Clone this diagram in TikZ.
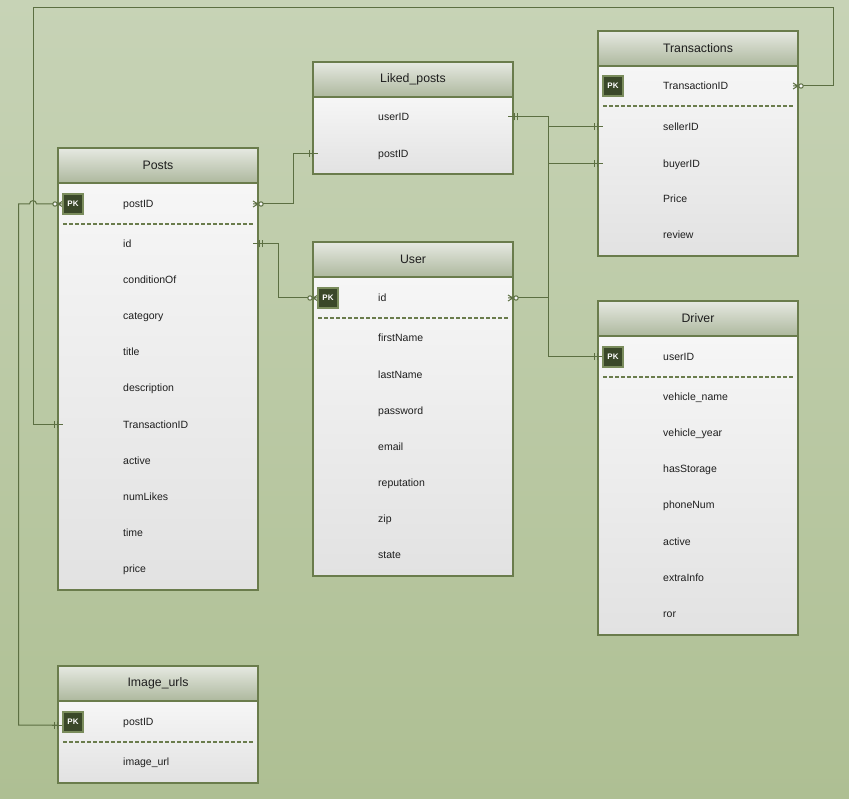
\documentclass[tikz,border=0pt]{standalone}
\usepackage{fontspec}
\setmainfont{Liberation Sans}
\definecolor{bgtop}{HTML}{C7D3B6}
\definecolor{bgbot}{HTML}{AEBF93}
\definecolor{edge}{HTML}{6A7C4C}
\definecolor{wire}{HTML}{5C6F42}
\definecolor{hdtop}{HTML}{E6E9E2}
\definecolor{hdbot}{HTML}{ADB89D}
\definecolor{bdtop}{HTML}{F6F6F6}
\definecolor{bdbot}{HTML}{E2E2E2}
\definecolor{pkfill}{HTML}{3A4829}
\definecolor{pkedge}{HTML}{7A8C5C}
\definecolor{ink}{HTML}{1E1E1E}
\tikzset{
  tbody/.style={draw=edge, line width=1.8pt, top color=bdtop, bottom color=bdbot,
    minimum width=200pt, inner sep=0pt, outer sep=0pt, anchor=north west},
  thead/.style={draw=edge, line width=1.8pt, top color=hdtop, bottom color=hdbot,
    minimum width=200pt, minimum height=35pt, inner sep=0pt, outer sep=0pt,
    anchor=south west, text=ink, font=\fontsize{12.3}{14}\selectfont},
  fld/.style={anchor=west, inner sep=0pt, text=ink, text height=7pt, text depth=0pt,
    font=\fontsize{10.5}{12}\selectfont},
  pkbox/.style={draw=pkedge, line width=1.6pt, fill=pkfill, text=white,
    minimum width=20pt, minimum height=20pt, inner sep=0pt,
    font=\bfseries\fontsize{8}{8}\selectfont},
  sepline/.style={draw=edge, line width=1.3pt, dash pattern=on 4pt off 2pt},
  wireline/.style={draw=wire, line width=1pt},
  pics/oneone/.style={code={
    \draw[wireline] (-6,0) -- (5,0);
    \draw[wireline] (-1,-3.5) -- (-1,3.5) (-4,-3.5) -- (-4,3.5);}},
  pics/zeromany/.style={code={
    \draw[wireline] (5,-3) -- (0,0) -- (5,3) (5,0) -- (0,0);
    \draw[wireline, fill=bdtop] (-3,0) circle (2.2pt);}},
}
\begin{document}
\begin{tikzpicture}[x=1pt,y=-1pt]
\useasboundingbox (0,0) rectangle (849,799);
\fill[top color=bgtop, bottom color=bgbot] (0,0) rectangle (849,799);

% ---------- Posts ----------
\node[tbody, minimum height=407pt] (posts) at (58,183) {};
\node[thead] (postsH) at (posts.north west) {Posts};
\foreach \t/\yy [count=\i] in {postID/204, id/244, conditionOf/280, category/316,
  title/352, description/388, TransactionID/425, active/461, numLikes/497,
  time/533, price/569}
  \node[fld] (posts-\i) at (123,\yy) {\t};
\node[pkbox] (postsPK) at (73,204) {PK};
\draw[sepline] (63,224) -- (253,224);

% ---------- Liked_posts ----------
\node[tbody, minimum height=77pt] (liked) at (313,97) {};
\node[thead] (likedH) at (liked.north west) {Liked\_posts};
\foreach \t/\yy [count=\i] in {userID/117, postID/154}
  \node[fld] (liked-\i) at (378,\yy) {\t};

% ---------- User ----------
\node[tbody, minimum height=299pt] (user) at (313,277) {};
\node[thead] (userH) at (user.north west) {User};
\foreach \t/\yy [count=\i] in {id/298, firstName/338, lastName/375, password/411,
  email/447, reputation/483, zip/519, state/555}
  \node[fld] (user-\i) at (378,\yy) {\t};
\node[pkbox] (userPK) at (328,298) {PK};
\draw[sepline] (318,318) -- (508,318);

% ---------- Transactions ----------
\node[tbody, minimum height=190pt] (trans) at (598,66) {};
\node[thead] (transH) at (trans.north west) {Transactions};
\foreach \t/\yy [count=\i] in {TransactionID/86, sellerID/127, buyerID/164,
  Price/199, review/235}
  \node[fld] (trans-\i) at (663,\yy) {\t};
\node[pkbox] (transPK) at (613,86) {PK};
\draw[sepline] (603,106) -- (793,106);

% ---------- Driver ----------
\node[tbody, minimum height=299pt] (driver) at (598,336) {};
\node[thead] (driverH) at (driver.north west) {Driver};
\foreach \t/\yy [count=\i] in {userID/357, vehicle\_name/397, vehicle\_year/433,
  hasStorage/469, phoneNum/505, active/542, extraInfo/578, ror/614}
  \node[fld] (driver-\i) at (663,\yy) {\t};
\node[pkbox] (driverPK) at (613,357) {PK};
\draw[sepline] (603,377) -- (793,377);

% ---------- Image_urls ----------
\node[tbody, minimum height=82pt] (image) at (58,701) {};
\node[thead] (imageH) at (image.north west) {Image\_urls};
\foreach \t/\yy [count=\i] in {postID/722, image\_url/762}
  \node[fld] (image-\i) at (123,\yy) {\t};
\node[pkbox] (imagePK) at (73,722) {PK};
\draw[sepline] (63,742) -- (253,742);

% ---------- connector end points ----------
\coordinate (pPostR) at (posts.east |- posts-1);
\coordinate (pPostL) at (posts.west |- posts-1);
\coordinate (pIdR) at (posts.east |- posts-2);
\coordinate (pTrL) at (posts.west |- posts-7);
\coordinate (lUserR) at (liked.east |- liked-1);
\coordinate (lPostL) at (liked.west |- liked-2);
\coordinate (uIdL) at (user.west |- user-1);
\coordinate (uIdR) at (user.east |- user-1);
\coordinate (tIdR) at (trans.east |- trans-1);
\coordinate (tSellL) at (trans.west |- trans-2);
\coordinate (tBuyL) at (trans.west |- trans-3);
\coordinate (dUserL) at (driver.west |- driver-1);
\coordinate (iPostL) at (image.west |- 0,725);
\coordinate (busTop) at (548,117);
\coordinate (busBot) at (548,357);

% ---------- connectors ----------
\draw[wireline] (pPostR) -- ++(35,0) |- (lPostL);
\draw[wireline] (pIdR) -- ++(20,0) |- (uIdL);
\draw[wireline] (lUserR) -- (busTop) -- (busBot) -- (dUserL);
\draw[wireline] (busTop |- tSellL) -- (tSellL);
\draw[wireline] (busTop |- tBuyL) -- (tBuyL);
\draw[wireline] (uIdR) -- (busTop |- uIdR);
\draw[wireline] (tIdR) -- (833,86) -- (833,8) -- (33,8) -- (33,425) -- (pTrL);
\draw[wireline] (pPostL) -- (36.5,204) .. controls (36.5,199.5) and (29.5,199.5) .. (29.5,204)
  -- (18.5,204) -- (18.5,725) -- (iPostL);

% ---------- end marks ----------
\pic[rotate=180] at (pPostR) {zeromany};
\pic at (lPostL) {oneone};
\pic[rotate=180] at (pIdR) {oneone};
\pic at (uIdL) {zeromany};
\pic[rotate=180] at (lUserR) {oneone};
\pic at (tSellL) {oneone};
\pic at (tBuyL) {oneone};
\pic at (dUserL) {oneone};
\pic[rotate=180] at (uIdR) {zeromany};
\pic[rotate=180] at (tIdR) {zeromany};
\pic at (pTrL) {oneone};
\pic at (pPostL) {zeromany};
\pic at (iPostL) {oneone};

% badges on top of marks
\node[pkbox] at (postsPK) {PK};
\node[pkbox] at (userPK) {PK};
\node[pkbox] at (transPK) {PK};
\node[pkbox] at (driverPK) {PK};
\node[pkbox] at (imagePK) {PK};
\end{tikzpicture}
\end{document}
